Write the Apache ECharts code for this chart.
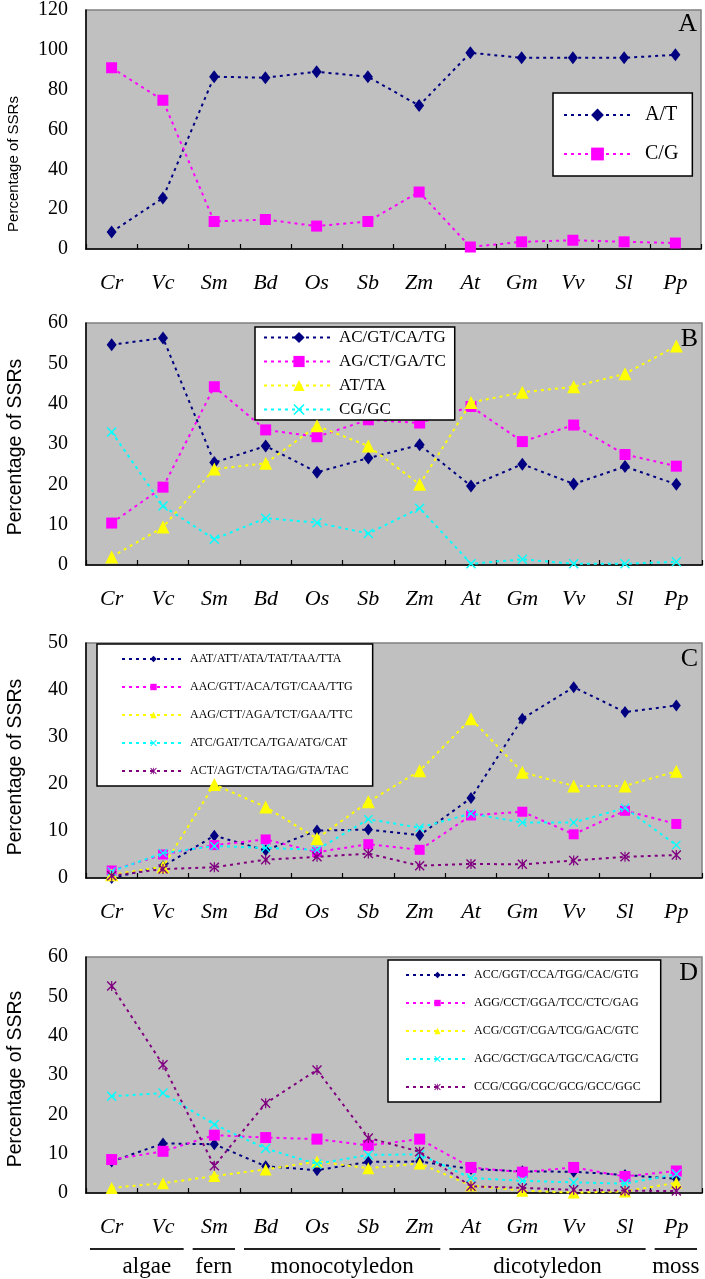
<!DOCTYPE html>
<html>
<head>
<meta charset="utf-8">
<script src="https://cdn.jsdelivr.net/npm/echarts@6/dist/echarts.min.js"></script>
<style>
html,body{margin:0;padding:0;background:#fff;}
#chart{width:705px;height:1279px;}
</style>
</head>
<body>
<div id="chart"></div>
<script>
// ---- data ----
const categories = ['Cr','Vc','Sm','Bd','Os','Sb','Zm','At','Gm','Vv','Sl','Pp'];

// Panel A: mononucleotide
const namesA = ['A/T','C/G'];
const atA = [8.5, 25.6, 86.5, 86, 89, 86.5, 72, 98.5, 96, 96, 96, 97.5];
const cgA = [91, 74.7, 13.8, 14.8, 11.5, 13.8, 28.6, 1, 3.6, 4.4, 3.6, 3];

// Panel B: dinucleotide
const namesB = ['AC/GT/CA/TG','AG/CT/GA/TC','AT/TA','CG/GC'];
const acB = [54.6, 56.3, 25.4, 29.5, 23, 26.5, 29.8, 19.6, 25, 20.1, 24.4, 20];
const agB = [10.4, 19.3, 44.2, 33.5, 31.8, 36, 35.2, 39.3, 30.6, 34.7, 27.4, 24.5];
const atB = [2, 9.4, 23.8, 25.2, 34.5, 29.5, 20, 40.3, 42.8, 44.2, 47.4, 54.3];
const cgB = [33, 14.6, 6.4, 11.6, 10.5, 7.8, 14.1, 0.3, 1.4, 0.3, 0.3, 0.8];

// Panel C: trinucleotide (A/T rich)
const namesC = ['AAT/ATT/ATA/TAT/TAA/TTA','AAC/GTT/ACA/TGT/CAA/TTG','AAG/CTT/AGA/TCT/GAA/TTC','ATC/GAT/TCA/TGA/ATG/CAT','ACT/AGT/CTA/TAG/GTA/TAC'];
const aatC = [0, 2.5, 9, 5.9, 10.1, 10.3, 9.1, 17, 33.9, 40.6, 35.3, 36.7];
const aacC = [1.6, 5, 7, 8.2, 5.5, 7.2, 6, 13.3, 14.1, 9.3, 14.3, 11.5];
const aagC = [0.7, 2.4, 19.9, 15.1, 8.4, 16.2, 22.8, 33.9, 22.5, 19.6, 19.6, 22.7];
const atcC = [1.4, 5.3, 6.8, 6.4, 6, 12.5, 10.7, 13.7, 11.8, 11.8, 14.9, 7];
const actC = [0.5, 1.9, 2.3, 3.9, 4.5, 5.2, 2.6, 3, 2.9, 3.7, 4.5, 4.9];

// Panel D: trinucleotide (G/C rich)
const namesD = ['ACC/GGT/CCA/TGG/CAC/GTG','AGG/CCT/GGA/TCC/CTC/GAG','ACG/CGT/CGA/TCG/GAC/GTC','AGC/GCT/GCA/TGC/CAG/CTG','CCG/CGG/CGC/GCG/GCC/GGC'];
const accD = [8, 12.6, 12.4, 6.8, 5.8, 7.9, 8, 6.1, 5.5, 5.4, 4.6, 3.6];
const aggD = [8.5, 10.6, 14.7, 14.1, 13.7, 12.1, 13.7, 6.5, 5.3, 6.5, 4.2, 5.6];
const acgD = [1.3, 2.5, 4.3, 6, 8, 6.3, 7.5, 1.9, 0.6, 0.1, 0.4, 2.6];
const agcD = [24.6, 25.4, 17.4, 11.3, 7.4, 9.7, 9.8, 3.8, 3.1, 2.7, 2.4, 4.8];
const ccgD = [52.6, 32.6, 6.9, 22.8, 31.3, 14, 10.5, 1.7, 1.3, 0.8, 0.6, 0.5];

// y-axis ranges
const yMax = [120, 60, 50, 60];
const yStep = [20, 10, 10, 10];
const panelLetters = ['A','B','C','D'];
const yTitle = 'Percentage of SSRs';

// plant groups (name, number of categories)
const groupNames = ['algae','fern','monocotyledon','dicotyledon','moss'];
const groupCounts = [2, 1, 4, 4, 1];

// ---- styling ----
const SERIF = '"Liberation Serif","Times New Roman",serif';
const SANS = '"Liberation Sans",Arial,sans-serif';
const COLORS = ['#000080','#ff00ff','#ffff00','#00ffff','#800080'];
const XSYM = 'path://M0,1L1,0L5,4L9,0L10,1L6,5L10,9L9,10L5,6L1,10L0,9L4,5Z';
const STAR = 'path://M0,1L1,0L10,9L9,10Z M9,0L10,1L1,10L0,9Z M4.4,0L5.6,0L5.6,10L4.4,10Z';
const SYMBOLS = ['diamond','rect','triangle',XSYM,STAR];

const grids = [
  {left:86, right:4, top:8, height:241},
  {left:86, right:3, top:323, height:242},
  {left:86, right:3, top:643, height:235},
  {left:86, right:3, top:957, height:236}
];

const panels = [
  {names:namesA, data:[atA, cgA], sizes:[[10,13],11]},
  {names:namesB, data:[acB, agB, atB, cgB], sizes:[[10,13],11,13,10]},
  {names:namesC, data:[aatC, aacC, aagC, atcC, actC], sizes:[[9,12],10,13,9,10]},
  {names:namesD, data:[accD, aggD, acgD, agcD, ccgD], sizes:[[9,12],11,12,10,10]}
];

const xAxes = [], yAxes = [], series = [];
grids.forEach((g, i) => {
  g.show = true;
  g.backgroundColor = '#c0c0c0';
  g.borderColor = '#808080';
  g.borderWidth = 1.5;
  xAxes.push({
    type:'category', gridIndex:i, data:categories, boundaryGap:true,
    axisLine:{show:true, onZero:false, lineStyle:{color:'#000', width:1.5}},
    axisTick:{show:true, inside:true, length:5, alignWithLabel:false, lineStyle:{color:'#000', width:1.2}},
    axisLabel:{margin:23, fontFamily:SERIF, fontStyle:'italic', fontSize:22, color:'#000'},
    splitLine:{show:false}
  });
  yAxes.push({
    type:'value', gridIndex:i, min:0, max:yMax[i], interval:yStep[i],
    axisLine:{show:true, lineStyle:{color:'#000', width:1.5}},
    axisTick:{show:false},
    axisLabel:{margin:18, fontFamily:SERIF, fontSize:20, color:'#000'},
    splitLine:{show:false}
  });
  const p = panels[i];
  p.names.forEach((nm, k) => {
    series.push({
      name:nm, type:'line', xAxisIndex:i, yAxisIndex:i, data:p.data[k],
      symbol:SYMBOLS[k], symbolSize:p.sizes[k],
      itemStyle:{color:COLORS[k]},
      lineStyle:{color:COLORS[k], width:2, type:[3,4]},
      z: 2 + k
    });
  });
});

const legendBase = {
  orient:'vertical', backgroundColor:'#fff', borderColor:'#000', borderWidth:1.5,
  itemStyle:{}, selectedMode:false
};
const legends = [
  Object.assign({}, legendBase, {data:namesA, left:553, top:93, itemWidth:67, itemHeight:16, itemGap:19,
    padding:[12,14,12,10], textStyle:{fontFamily:SERIF, fontSize:20, color:'#000', padding:[0,0,0,9]}}),
  Object.assign({}, legendBase, {data:namesB, left:255, top:327, itemWidth:70, itemHeight:14, itemGap:7,
    padding:[2,9,2,8], textStyle:{fontFamily:SERIF, fontSize:17, color:'#000'}}),
  Object.assign({}, legendBase, {data:namesC, left:97, top:644, itemWidth:63, itemHeight:8, itemGap:16,
    padding:[9,20,9,24], textStyle:{fontFamily:SERIF, fontSize:12, color:'#000'}}),
  Object.assign({}, legendBase, {data:namesD, left:388, top:960, itemWidth:63, itemHeight:8, itemGap:16,
    padding:[9,20,9,17], textStyle:{fontFamily:SERIF, fontSize:12, color:'#000'}})
];

const chart = echarts.init(document.getElementById('chart'), null, {renderer:'canvas'});
chart.setOption({
  animation:false,
  backgroundColor:'#fff',
  grid:grids, xAxis:xAxes, yAxis:yAxes, legend:legends, series:series
});

// ---- annotations (axis titles, panel letters, plant groups) ----
const graphics = [];
const yTitlePos = [[14,164,15],[16,447,19.5],[16,767,19.5],[16,1079,19.5]];
yTitlePos.forEach(p => {
  graphics.push({type:'text', x:p[0], y:p[1], rotation:Math.PI/2,
    style:{text:yTitle, fontFamily:SANS, fontSize:p[2], fill:'#000', align:'center', verticalAlign:'middle'}, z:10});
});
grids.forEach((g, i) => {
  const tr = chart.convertToPixel({gridIndex:i}, [categories.length - 1, yMax[i]]);
  const right = 705 - g.right;
  graphics.push({type:'text', x:right - 4, y:g.top + 3,
    style:{text:panelLetters[i], fontFamily:SERIF, fontSize:26, fill:'#000', align:'right', verticalAlign:'top'}, z:10});
});
// plant-group underlines under panel D, derived from the category axis
const gD = grids[3];
const bandW = (705 - gD.left - gD.right) / categories.length;
let idx = 0;
const lineY = 1249, textY = 1267;
groupNames.forEach((nm, gi) => {
  const first = idx, last = idx + groupCounts[gi] - 1;
  const x0 = chart.convertToPixel({xAxisIndex:3}, categories[first]) - bandW/2 + 4;
  const x1 = Math.min(chart.convertToPixel({xAxisIndex:3}, categories[last]) + bandW/2 - 5, 704);
  graphics.push({type:'line', shape:{x1:x0, y1:lineY, x2:x1, y2:lineY}, style:{stroke:'#222', lineWidth:2}, z:10});
  graphics.push({type:'text', x:(x0 + x1)/2 + (gi === 0 ? 10 : 0), y:textY,
    style:{text:nm, fontFamily:SERIF, fontSize:23, fill:'#000', align:'center', verticalAlign:'middle'}, z:10});
  idx = last + 1;
});
chart.setOption({graphic:graphics});
</script>
</body>
</html>
